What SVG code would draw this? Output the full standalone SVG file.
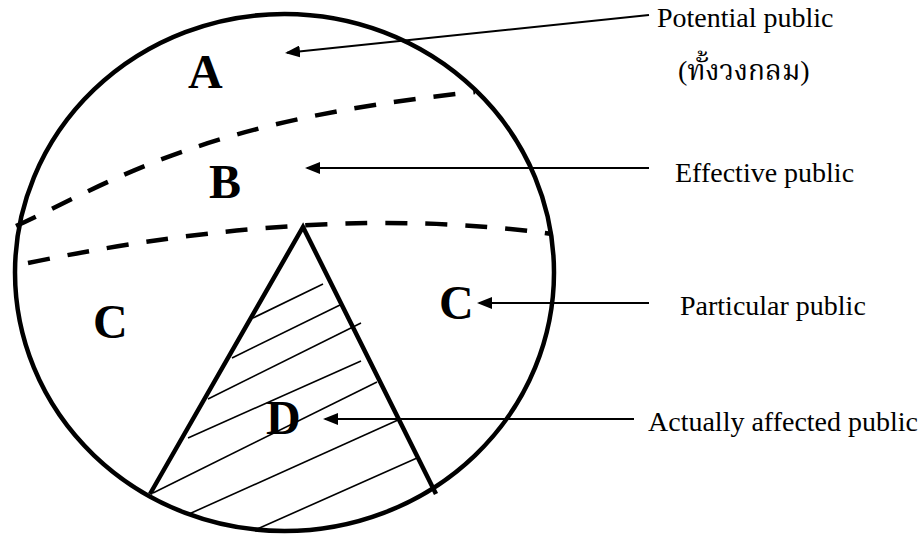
<svg xmlns="http://www.w3.org/2000/svg" width="922" height="535" viewBox="0 0 922 535">
  <style>
    .bg { fill: #ffffff; }
    .outline { fill: none; stroke: #000; stroke-width: 4.5; }
    .dash { fill: none; stroke: #000; stroke-width: 4.5; stroke-dasharray: 22 18; }
    .hatch { stroke: #000; stroke-width: 1.6; fill: none; }
    .conn { stroke: #000; stroke-width: 2; fill: none; marker-end: url(#arrow); }
    .letter { font-family: "Liberation Serif", "Times New Roman", serif; font-weight: bold; font-size: 48px; fill: #000; }
    .label { font-family: "Liberation Serif", "Times New Roman", "Noto Serif Thai", "Noto Sans Thai", "Loma", "Garuda", serif; font-size: 28px; fill: #000; }
  </style>
  <defs>
    <marker id="arrow" viewBox="0 0 15 12" refX="13" refY="6" markerWidth="15" markerHeight="12" markerUnits="userSpaceOnUse" orient="auto">
      <path d="M0,0 L15,6 L0,12 z" fill="#000"/>
    </marker>
  </defs>
  <rect class="bg" x="0" y="0" width="922" height="535"/>

  <g id="circle">
    <ellipse class="outline" cx="284.5" cy="272.5" rx="269.5" ry="258.5"/>
  </g>

  <g id="boundaries">
    <path class="dash" d="M16,226 C110,183 200,120 475,92"/>
    <path class="dash" d="M28,263 Q322,202 552,234"/>
  </g>

  <g id="region-D">
    <g id="hatching">
      <line class="hatch" x1="253" y1="318" x2="323" y2="284"/>
      <line class="hatch" x1="232" y1="358" x2="340" y2="305"/>
      <line class="hatch" x1="208" y1="399" x2="361" y2="323"/>
      <line class="hatch" x1="188" y1="438" x2="361" y2="361"/>
      <line class="hatch" x1="153" y1="493" x2="377" y2="382"/>
      <line class="hatch" x1="189" y1="514" x2="398" y2="420"/>
      <line class="hatch" x1="255" y1="530" x2="417" y2="458"/>
    </g>
    <polyline class="outline" points="150,494 303,227 436,494" stroke-linejoin="miter"/>
    <text class="letter" x="266" y="434">D</text>
  </g>

  <g id="region-A">
    <text class="letter" x="188" y="88">A</text>
  </g>
  <g id="region-B">
    <text class="letter" x="209" y="198">B</text>
  </g>
  <g id="region-C-left">
    <text class="letter" x="93" y="338">C</text>
  </g>
  <g id="region-C-right">
    <text class="letter" x="439" y="319">C</text>
  </g>

  <g id="label-potential">
    <text class="label" x="657" y="27">Potential public</text>
    <text class="label" x="678" y="80">(ทั้งวงกลม)</text>
  </g>
  <g id="label-effective">
    <text class="label" x="675" y="182">Effective public</text>
  </g>
  <g id="label-particular">
    <text class="label" x="680" y="315">Particular public</text>
  </g>
  <g id="label-affected">
    <text class="label" x="648" y="431">Actually affected public</text>
  </g>

  <g id="connectors">
    <line class="conn" x1="649" y1="15" x2="287" y2="52.8"/>
    <line class="conn" x1="649" y1="168" x2="307" y2="168"/>
    <line class="conn" x1="649" y1="303" x2="479" y2="303"/>
    <line class="conn" x1="634" y1="419" x2="325" y2="419"/>
  </g>
</svg>
